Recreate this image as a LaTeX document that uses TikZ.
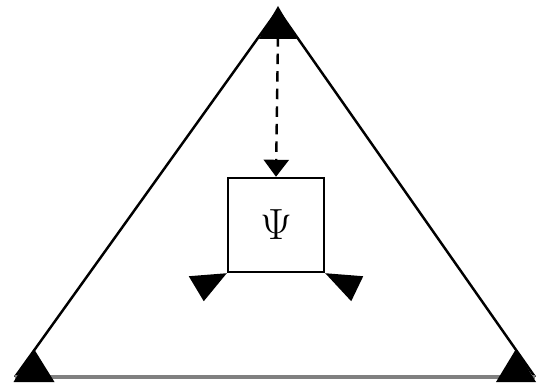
\documentclass[tikz,border=0pt]{standalone}
\usetikzlibrary{arrows.meta}

\tikzset{
    edge/.style={line width=1.4pt},
    marker/.style={fill=black},
}

\begin{document}
\begin{tikzpicture}[x=0.02cm,y=-0.02cm]
        \useasboundingbox (0,0) rectangle (537,385);
        \coordinate (apex) at (278,10);
        \coordinate (left) at (15,377);
        \coordinate (right) at (535,377);
        \coordinate (src) at (278,36);

        \draw[edge] (left) -- (apex) -- (right);
        \draw[line width=2.2pt, black!50] (left) -- (right);

        \node[draw, edge, inner sep=0pt, minimum width=1.92cm, minimum height=1.88cm,
              font=\fontsize{27}{29}\selectfont] (psi) at (276,225) {$\Psi$};

        \draw[edge, dash pattern=on 6pt off 4pt,
              -{Triangle[width=0.5cm, length=0.34cm]}] (src) -- (psi.north);

        % corner markers
        \foreach \x/\y/\w in {278/6/19, 34/349/20.5, 516/349/20} {
            \fill[marker] (\x,\y) -- ++(\w,33) -- ++(-2*\w,0) -- cycle;
        }

        % markers under the box
        \fill[marker] (psi.south west) ++(-38,3) -- (psi.south west) -- ++(-23,28) -- cycle;
        \fill[marker] (psi.south east) ++(38,3) -- (psi.south east) -- ++(26,28) -- cycle;
    \end{tikzpicture}
\end{document}
